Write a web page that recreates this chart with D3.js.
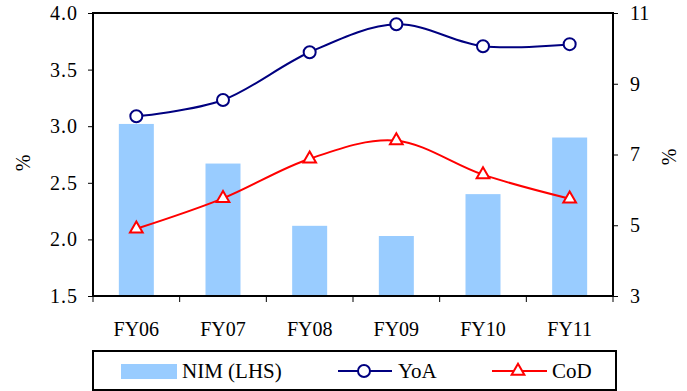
<!DOCTYPE html>
<html>
<head>
<meta charset="utf-8">
<script src="https://cdn.jsdelivr.net/npm/d3@7/dist/d3.min.js"></script>
<style>
  html, body { margin: 0; padding: 0; background: #fff; }
  svg { display: block; }
  svg text { font-family: "Liberation Serif", serif !important; }
</style>
</head>
<body>
<script>
// Fiscal years and the three series (NIM on the left axis, yields/costs on the right)
const categories = ["FY06", "FY07", "FY08", "FY09", "FY10", "FY11"];
const nim = [3.02, 2.67, 2.12, 2.03, 2.40, 2.90];
const yoa = [8.08, 8.54, 9.89, 10.68, 10.06, 10.12];
const cod = [4.90, 5.76, 6.88, 7.39, 6.43, 5.75];
const leftTicks = [1.5, 2.0, 2.5, 3.0, 3.5, 4.0];
const rightTicks = [3, 5, 7, 9, 11];

const W = 687, H = 391;
const plot = { left: 93, right: 613, top: 13, bottom: 296 };

const svg = d3.select("body").append("svg")
  .attr("width", W).attr("height", H);

const xBand = d3.scaleBand().domain(categories)
  .range([plot.left, plot.right]);
const yL = d3.scaleLinear().domain([1.5, 4.0]).range([plot.bottom, plot.top]);
const yR = d3.scaleLinear().domain([3, 11]).range([plot.bottom, plot.top]);
const cx = c => xBand(c) + xBand.bandwidth() / 2;

// Bars
const barW = 35;
svg.append("g").selectAll("rect").data(nim).join("rect")
  .attr("x", (d, i) => cx(categories[i]) - barW / 2)
  .attr("width", barW)
  .attr("y", d => yL(d))
  .attr("height", d => yL(1.5) - yL(d))
  .attr("fill", "#99ccff");

// Axes
const gL = svg.append("g").attr("transform", `translate(${plot.left},0)`)
  .call(d3.axisLeft(yL).tickValues(leftTicks).tickFormat(d3.format(".1f"))
    .tickSize(5).tickPadding(10));
const gR = svg.append("g").attr("transform", `translate(${plot.right},0)`)
  .call(d3.axisRight(yR).tickValues(rightTicks).tickFormat(d3.format("d"))
    .tickSize(5).tickPadding(12));
const gB = svg.append("g").attr("transform", `translate(0,${plot.bottom})`)
  .call(d3.axisBottom(xBand).tickSize(0).tickPadding(26));

[gL, gR, gB].forEach(g => {
  g.attr("font-family", null).attr("font-size", null);
  g.select(".domain").remove();
  g.selectAll("line").attr("stroke", "#000").attr("stroke-width", 1);
  g.selectAll("text").attr("fill", "#000").style("font-size", "20px");
});
gL.selectAll("text").attr("letter-spacing", "1px");

// Bottom ticks at category boundaries
const boundaries = categories.map(c => xBand(c)).concat([plot.right]);
svg.append("g").selectAll("line").data(boundaries).join("line")
  .attr("x1", d => d).attr("x2", d => d)
  .attr("y1", plot.bottom).attr("y2", plot.bottom + 6)
  .attr("stroke", "#000").attr("stroke-width", 1);

// Plot frame
svg.append("rect")
  .attr("x", plot.left).attr("y", plot.top)
  .attr("width", plot.right - plot.left).attr("height", plot.bottom - plot.top)
  .attr("fill", "none").attr("stroke", "#000").attr("stroke-width", 2);

// Axis titles
svg.append("text").attr("transform", "translate(23,163) rotate(-90)")
  .attr("text-anchor", "middle").attr("dominant-baseline", "central")
  .style("font-size", "20px").text("%");
svg.append("text").attr("transform", "translate(669,157) rotate(-90)")
  .attr("text-anchor", "middle").attr("dominant-baseline", "central")
  .style("font-size", "20px").text("%");

// Smoothed lines with markers
const lineR = d3.line().x((d, i) => cx(categories[i])).y(d => yR(d))
  .curve(d3.curveCardinal.tension(0));
const triangle = d3.symbol().type(d3.symbolTriangle).size(70);

function drawSeries(values, color, marker) {
  svg.append("path").datum(values).attr("d", lineR)
    .attr("fill", "none").attr("stroke", color).attr("stroke-width", 2);
  const g = svg.append("g");
  values.forEach((v, i) => {
    if (marker === "circle") {
      g.append("circle").attr("cx", cx(categories[i])).attr("cy", yR(v)).attr("r", 6)
        .attr("fill", "#fff").attr("stroke", color).attr("stroke-width", 2);
    } else {
      g.append("path").attr("d", triangle)
        .attr("transform", `translate(${cx(categories[i])},${yR(v)})`)
        .attr("fill", "#fff").attr("stroke", color).attr("stroke-width", 2);
    }
  });
}
drawSeries(yoa, "#000080", "circle");
drawSeries(cod, "#ff0000", "triangle");

// Legend
const leg = svg.append("g");
leg.append("rect").attr("x", 93).attr("y", 351).attr("width", 523).attr("height", 39)
  .attr("fill", "#fff").attr("stroke", "#000").attr("stroke-width", 2);
const ly = 371;
leg.append("rect").attr("x", 121).attr("y", 364).attr("width", 56).attr("height", 15)
  .attr("fill", "#99ccff");
leg.append("text").attr("x", 182).attr("y", ly).attr("dominant-baseline", "central")
  .style("font-size", "21px").text("NIM (LHS)");

leg.append("line").attr("x1", 338).attr("x2", 392).attr("y1", ly).attr("y2", ly)
  .attr("stroke", "#000080").attr("stroke-width", 2);
leg.append("circle").attr("cx", 364).attr("cy", ly).attr("r", 6)
  .attr("fill", "#fff").attr("stroke", "#000080").attr("stroke-width", 2);
leg.append("text").attr("x", 398).attr("y", ly).attr("dominant-baseline", "central")
  .style("font-size", "21px").text("YoA");

leg.append("line").attr("x1", 492).attr("x2", 547).attr("y1", ly).attr("y2", ly)
  .attr("stroke", "#ff0000").attr("stroke-width", 2);
leg.append("path").attr("d", triangle).attr("transform", `translate(518,${ly})`)
  .attr("fill", "#fff").attr("stroke", "#ff0000").attr("stroke-width", 2);
leg.append("text").attr("x", 552).attr("y", ly).attr("dominant-baseline", "central")
  .style("font-size", "21px").text("CoD");
</script>
</body>
</html>
